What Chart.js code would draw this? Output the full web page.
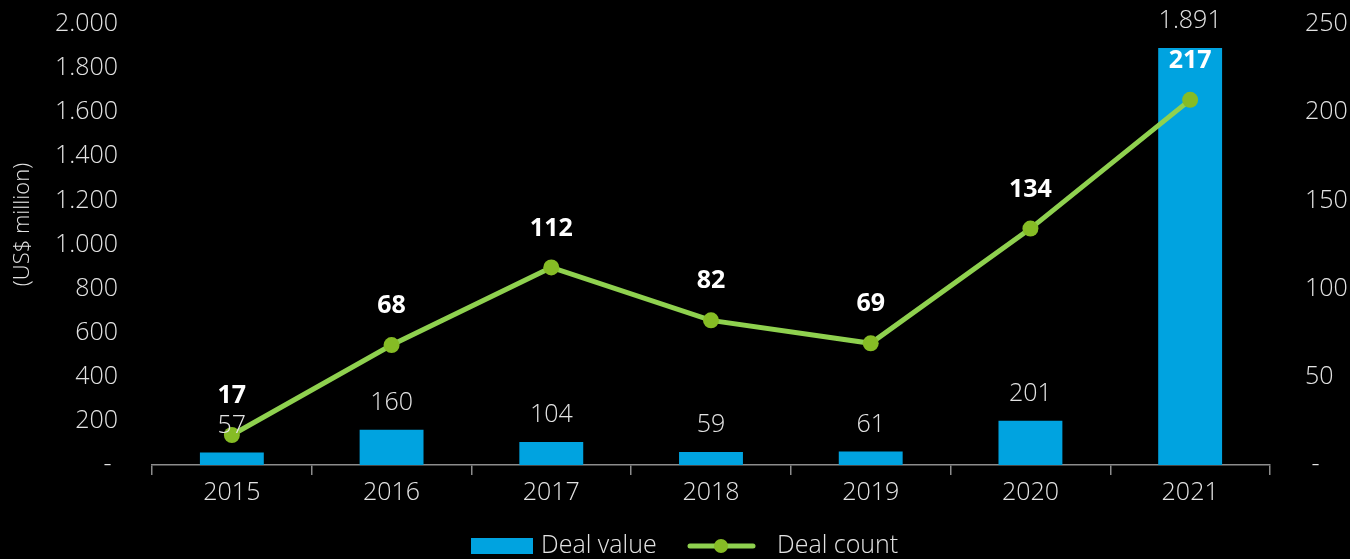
<!DOCTYPE html>
<html><head><meta charset="utf-8">
<script src="https://cdn.jsdelivr.net/npm/chart.js@4"></script>
<style>html,body{margin:0;padding:0;background:#000;overflow:hidden}</style>
</head><body>
<canvas id="c" width="1350" height="559" style="width:1350px;height:559px;display:block"></canvas>
<script>
const years = ['2015', '2016', '2017', '2018', '2019', '2020', '2021'];
const dealValue = [57, 160, 104, 59, 61, 201, 1891];
const dealCount = [17, 68, 112, 82, 69, 134, 207];
const dealCountLabels = ['17', '68', '112', '82', '69', '134', '217'];
const seriesNames = ['Deal value', 'Deal count'];
const axisTitle = '(US$ million)';

const BLUE = '#00A3E0', LINE = '#8FD14F', MARK = '#86BC25', TXT = '#E3E3E3';
const FONT = '"Open Sans", "Noto Sans", sans-serif';
const FS = 25;

function fmt(v) { return String(Math.round(v)).replace(/\B(?=(\d{3})+(?!\d))/g, '.'); }

const labelPlugin = {
  id: 'labels',
  afterDatasetsDraw(chart) {
    const ctx = chart.ctx;
    ctx.save();
    ctx.textAlign = 'center';
    ctx.textBaseline = 'middle';
    const lineMeta = chart.getDatasetMeta(0);
    const barMeta = chart.getDatasetMeta(1);
    ctx.font = '300 ' + FS + 'px ' + FONT;
    ctx.fillStyle = TXT;
    barMeta.data.forEach((el, i) => ctx.fillText(fmt(dealValue[i]), el.x, el.y - 27));
    ctx.font = '700 ' + FS + 'px ' + FONT;
    ctx.fillStyle = '#FFFFFF';
    lineMeta.data.forEach((el, i) => ctx.fillText(dealCountLabels[i], el.x, el.y - 39));
    ctx.restore();
  }
};

const legendPlugin = {
  id: 'customLegend',
  afterDraw(chart) {
    const ctx = chart.ctx;
    ctx.save();
    const cy = 546;
    ctx.fillStyle = BLUE;
    ctx.fillRect(471, 538, 62, 16);
    ctx.font = '300 ' + FS + 'px ' + FONT;
    ctx.fillStyle = TXT;
    ctx.textBaseline = 'middle';
    ctx.textAlign = 'left';
    ctx.fillText(seriesNames[0], 541, cy);
    ctx.strokeStyle = LINE;
    ctx.lineWidth = 5;
    ctx.lineCap = 'round';
    ctx.beginPath(); ctx.moveTo(690, cy); ctx.lineTo(753, cy); ctx.stroke();
    ctx.fillStyle = MARK;
    ctx.beginPath(); ctx.arc(721, cy, 7, 0, Math.PI * 2); ctx.fill();
    ctx.fillStyle = TXT;
    ctx.fillText(seriesNames[1], 777, cy);
    ctx.restore();
  }
};

new Chart(document.getElementById('c'), {
  data: {
    labels: years,
    datasets: [
      { type: 'line', label: seriesNames[1], data: dealCount, yAxisID: 'y1', order: 1,
        borderColor: LINE, borderWidth: 5, backgroundColor: MARK,
        pointBackgroundColor: MARK, pointBorderColor: MARK, pointRadius: 8, pointBorderWidth: 0,
        tension: 0, fill: false, clip: false },
      { type: 'bar', label: seriesNames[0], data: dealValue, yAxisID: 'y', order: 2,
        backgroundColor: BLUE, borderWidth: 0, categoryPercentage: 1, barPercentage: 0.4 }
    ]
  },
  options: {
    responsive: false,
    animation: false,
    layout: { padding: { top: 24, left: 0, right: 0, bottom: 0 } },
    plugins: { legend: { display: false }, tooltip: { enabled: false } },
    scales: {
      x: {
        offset: true,
        grid: { display: true, drawOnChartArea: false, drawTicks: true, tickLength: 10, color: '#8C8C8C', lineWidth: 1.5, offset: true },
        border: { display: true, color: '#8C8C8C', width: 1.5 },
        ticks: { color: TXT, font: { family: FONT, size: FS, weight: 300 }, padding: 3, maxRotation: 0 },
        afterFit(s) { s.height = 94; }
      },
      y: {
        position: 'left', min: 0, max: 2000,
        grid: { display: false, drawTicks: true, tickLength: 34 },
        border: { display: false },
        ticks: { stepSize: 200, color: TXT, padding: 0, font: { family: FONT, size: FS, weight: 300 },
          callback: v => v === 0 ? '- ' : fmt(v) },
        title: { display: true, text: '       ' + axisTitle, color: TXT, font: { family: FONT, size: 22, weight: 300 }, padding: { top: 10, bottom: 0 } },
        afterFit(s) { s.width = 152; }
      },
      y1: {
        position: 'right', min: 0, max: 250,
        grid: { display: false, drawTicks: true, tickLength: 35 },
        border: { display: false },
        ticks: { stepSize: 50, color: TXT, padding: 0, font: { family: FONT, size: FS, weight: 300 },
          callback: v => v === 0 ? ' -' : String(v) },
        afterFit(s) { s.width = 80; }
      }
    }
  },
  plugins: [labelPlugin, legendPlugin]
});
</script>
</body></html>
